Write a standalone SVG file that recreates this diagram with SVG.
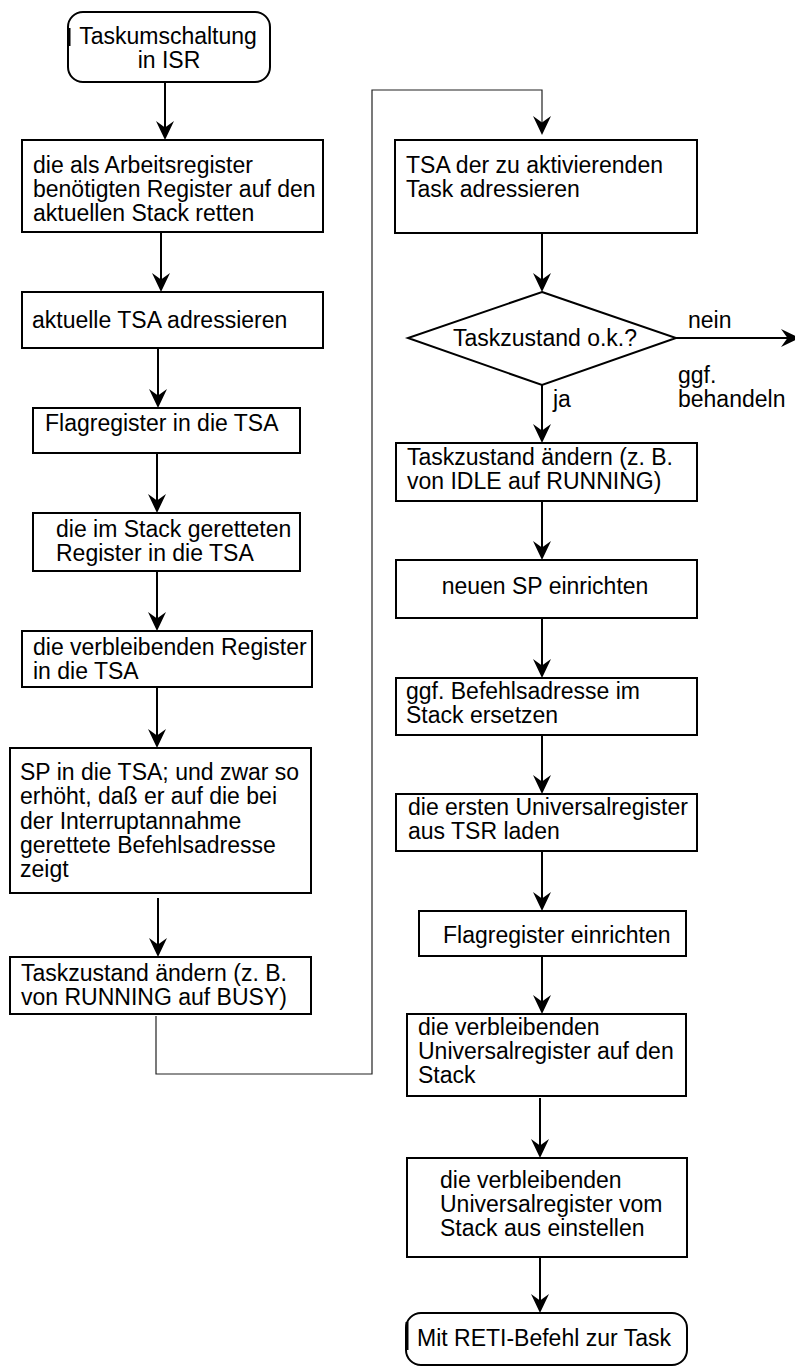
<svg xmlns="http://www.w3.org/2000/svg" width="795" height="1367" viewBox="0 0 795 1367">
  <style>
    text { font-family: "Liberation Sans", Arial, sans-serif; font-size: 23px; fill: #000; }
    .box { fill: #fff; stroke: #000; stroke-width: 2; }
    .flow { fill: none; stroke: #000; stroke-width: 2; }
    .thin { fill: none; stroke: #222; stroke-width: 1.2; }
    .mid { text-anchor: middle; }
  </style>
  <defs>
    <marker id="head" markerUnits="userSpaceOnUse" viewBox="-19 -10 20 20" markerWidth="20" markerHeight="20" refX="-6" refY="0" orient="auto">
      <path d="M0,0 L-19,-9 L-12.5,0 L-19,9 Z" fill="#000"/>
    </marker>
  </defs>

  <!-- connectors -->
  <g id="connectors">
    <path class="flow" d="M165,82 V134" marker-end="url(#head)"/>
    <path class="flow" d="M161,232 V286" marker-end="url(#head)"/>
    <path class="flow" d="M158,348 V402" marker-end="url(#head)"/>
    <path class="flow" d="M157,453 V507" marker-end="url(#head)"/>
    <path class="flow" d="M157,571 V625" marker-end="url(#head)"/>
    <path class="flow" d="M157,687 V742" marker-end="url(#head)"/>
    <path class="flow" d="M158,898 V951" marker-end="url(#head)"/>
    <path class="thin" d="M156,1016 V1074 H372 V90 H542 V130"/>
    <path class="flow" d="M542,127 V129" marker-end="url(#head)"/>
    <path class="flow" d="M542,233 V286" marker-end="url(#head)"/>
    <path class="flow" d="M675,338 H794" marker-end="url(#head)"/>
    <path class="flow" d="M542,385 V437" marker-end="url(#head)"/>
    <path class="flow" d="M542,501 V554" marker-end="url(#head)"/>
    <path class="flow" d="M542,618 V672" marker-end="url(#head)"/>
    <path class="flow" d="M542,735 V788" marker-end="url(#head)"/>
    <path class="flow" d="M542,851 V905" marker-end="url(#head)"/>
    <path class="flow" d="M542,956 V1008" marker-end="url(#head)"/>
    <path class="flow" d="M540,1098 V1152" marker-end="url(#head)"/>
    <path class="flow" d="M540,1257 V1307" marker-end="url(#head)"/>
  </g>

  <!-- left column -->
  <g id="start">
    <rect class="box" x="68" y="12" width="202" height="70" rx="15"/>
    <line x1="69" y1="28" x2="69" y2="46" stroke="#000" stroke-width="3"/>
    <text class="mid" x="168" y="44">Taskumschaltung</text>
    <text class="mid" x="169" y="68">in ISR</text>
  </g>
  <g id="save-work-regs">
    <rect class="box" x="22" y="140" width="301" height="92"/>
    <text x="33" y="173">die als Arbeitsregister</text>
    <text x="33" y="197">benötigten Register auf den</text>
    <text x="33" y="221">aktuellen Stack retten</text>
  </g>
  <g id="address-current-tsa">
    <rect class="box" x="22" y="292" width="301" height="56"/>
    <text x="32" y="328">aktuelle TSA adressieren</text>
  </g>
  <g id="flags-to-tsa">
    <rect class="box" x="33" y="408" width="267" height="45"/>
    <text x="45" y="431">Flagregister in die TSA</text>
  </g>
  <g id="saved-regs-to-tsa">
    <rect class="box" x="33" y="513" width="267" height="58"/>
    <text x="56" y="537">die im Stack geretteten</text>
    <text x="56" y="561">Register in die TSA</text>
  </g>
  <g id="remaining-regs-to-tsa">
    <rect class="box" x="22" y="631" width="290" height="56"/>
    <text x="33" y="655">die verbleibenden Register</text>
    <text x="33" y="679">in die TSA</text>
  </g>
  <g id="sp-to-tsa">
    <rect class="box" x="10" y="748" width="301" height="145"/>
    <text x="20" y="780">SP in die TSA; und zwar so</text>
    <text x="20" y="804">erhöht, daß er auf die bei</text>
    <text x="20" y="829">der Interruptannahme</text>
    <text x="20" y="853">gerettete Befehlsadresse</text>
    <text x="20" y="877">zeigt</text>
  </g>
  <g id="state-running-busy">
    <rect class="box" x="10" y="957" width="301" height="57"/>
    <text x="21" y="981">Taskzustand ändern (z. B.</text>
    <text x="21" y="1005">von RUNNING auf BUSY)</text>
  </g>

  <!-- right column -->
  <g id="address-next-tsa">
    <rect class="box" x="395" y="140" width="302" height="93"/>
    <text x="406" y="173">TSA der zu aktivierenden</text>
    <text x="406" y="197">Task adressieren</text>
  </g>
  <g id="state-check">
    <polygon class="box" points="542,292 676,338 542,385 408,338"/>
    <text class="mid" x="545" y="346">Taskzustand o.k.?</text>
  </g>
  <g id="branch-labels">
    <text x="688" y="328">nein</text>
    <text x="678" y="383">ggf.</text>
    <text x="678" y="407">behandeln</text>
    <text x="553" y="407">ja</text>
  </g>
  <g id="state-idle-running">
    <rect class="box" x="396" y="443" width="301" height="58"/>
    <text x="407" y="465">Taskzustand ändern (z. B.</text>
    <text x="407" y="489">von IDLE auf RUNNING)</text>
  </g>
  <g id="new-sp">
    <rect class="box" x="396" y="560" width="301" height="58"/>
    <text class="mid" x="545" y="594">neuen SP einrichten</text>
  </g>
  <g id="replace-return-addr">
    <rect class="box" x="396" y="678" width="301" height="57"/>
    <text x="406" y="699">ggf. Befehlsadresse im</text>
    <text x="406" y="723">Stack ersetzen</text>
  </g>
  <g id="load-first-regs">
    <rect class="box" x="396" y="794" width="301" height="57"/>
    <text x="408" y="815">die ersten Universalregister</text>
    <text x="408" y="839">aus TSR laden</text>
  </g>
  <g id="set-flags">
    <rect class="box" x="419" y="911" width="267" height="45"/>
    <text x="443" y="943">Flagregister einrichten</text>
  </g>
  <g id="remaining-regs-to-stack">
    <rect class="box" x="407" y="1014" width="279" height="82"/>
    <text x="418" y="1035">die verbleibenden</text>
    <text x="418" y="1059">Universalregister auf den</text>
    <text x="418" y="1083">Stack</text>
  </g>
  <g id="restore-from-stack">
    <rect class="box" x="407" y="1158" width="280" height="99"/>
    <text x="440" y="1188">die verbleibenden</text>
    <text x="440" y="1212">Universalregister vom</text>
    <text x="440" y="1236">Stack aus einstellen</text>
  </g>
  <g id="end">
    <rect class="box" x="406" y="1313" width="281" height="52" rx="15"/>
    <line x1="407" y1="1322" x2="407" y2="1350" stroke="#000" stroke-width="3"/>
    <text x="417" y="1346">Mit RETI-Befehl zur Task</text>
  </g>
</svg>
